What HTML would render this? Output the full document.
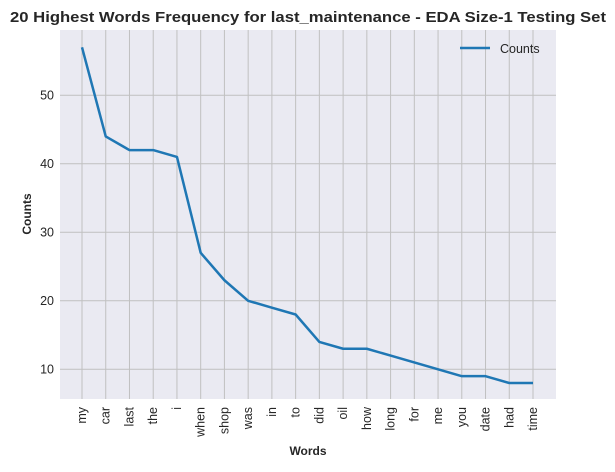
<!DOCTYPE html>
<html><head><meta charset="utf-8"><style>
body{margin:0;background:#fff;}
svg text{font-family:"Liberation Sans",Arial,sans-serif;fill:#262626;}
</style></head><body>
<svg id="chart" width="615" height="467" xmlns="http://www.w3.org/2000/svg">
<text x="308" y="22" text-anchor="middle" font-size="15" font-weight="bold" textLength="596" lengthAdjust="spacingAndGlyphs">20 Highest Words Frequency for last_maintenance - EDA Size-1 Testing Set</text>
<rect x="60" y="30" width="496" height="369" fill="#eaeaf2"/>
<g id="grid"></g><g id="ticks"></g>
<text transform="translate(31,214) rotate(-90)" text-anchor="middle" font-size="12" font-weight="bold">Counts</text>
<text x="308" y="455" text-anchor="middle" font-size="12" font-weight="bold">Words</text>
<path id="line" fill="none" stroke="#1f77b4" stroke-width="2.5" stroke-linejoin="round"/>
<g>
<line x1="460" y1="48" x2="490" y2="48" stroke="#1f77b4" stroke-width="2.5"/>
<text x="500" y="53" font-size="12.5">Counts</text>
</g>
</svg>
<script>
const words=["my","car","last","the","i","when","shop","was","in","to","did","oil","how","long","for","me","you","date","had","time"];
const counts=[57,44,42,42,41,27,23,20,19,18,14,13,13,12,11,10,9,9,8,8];
const yTicks=[10,20,30,40,50];
const NS="http://www.w3.org/2000/svg";
const xs=i=>82+i*(451/19);
const ys=v=>437.8-v*6.85;
const grid=document.getElementById('grid'),ticks=document.getElementById('ticks');
function mk(tag,a,p){const e=document.createElementNS(NS,tag);for(const k in a)e.setAttribute(k,a[k]);p.appendChild(e);return e;}
words.forEach((w,i)=>{
 const l=mk('line',{x1:xs(i),x2:xs(i),y1:30,y2:399,stroke:'#c0c0c0','stroke-width':1},grid);
 
 
 const t=mk('text',{transform:`translate(${xs(i)+4},407) rotate(-90)`,'text-anchor':'end','font-size':12.5},ticks);
 t.textContent=w;
 
 
});
yTicks.forEach(v=>{
 const l=mk('line',{x1:60,x2:556,y1:ys(v),y2:ys(v),stroke:'#c0c0c0','stroke-width':1},grid);
 
 
 const t=mk('text',{x:54,y:ys(v)+4,'text-anchor':'end','font-size':12.5},ticks);
 t.textContent=v;
 
 
});
document.getElementById('line').setAttribute('d',counts.map((v,i)=>(i?'L':'M')+xs(i)+' '+ys(v)).join(' '));
</script>
</body></html>
